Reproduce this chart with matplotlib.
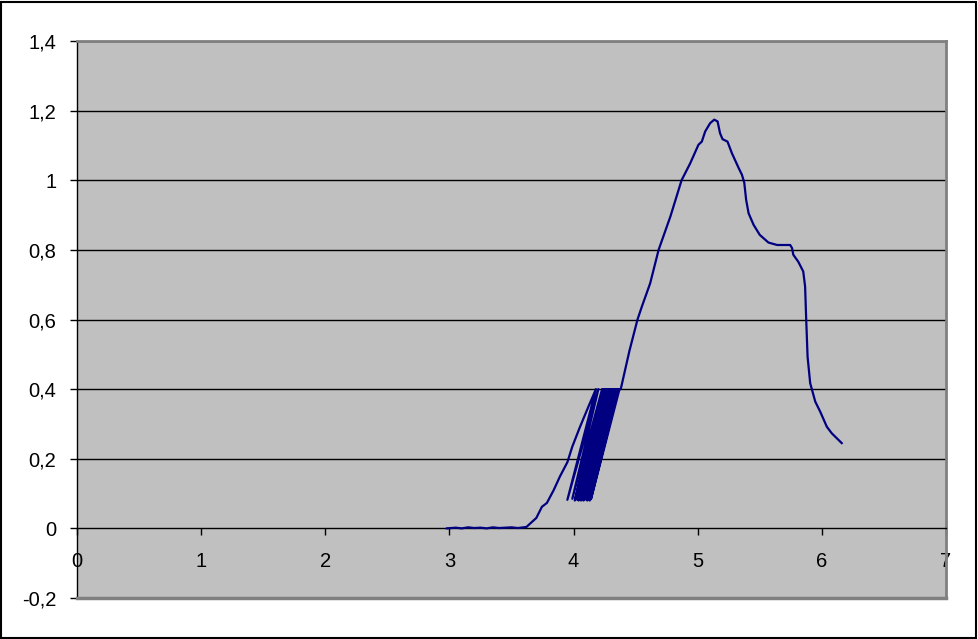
import matplotlib
matplotlib.use("Agg")
import matplotlib.pyplot as plt
import matplotlib.patches as mpatches

# ---- data ----
# flat foot of the curve
foot_x = [2.98, 3.05, 3.10, 3.15, 3.20, 3.25, 3.30, 3.35, 3.40, 3.45, 3.50, 3.55, 3.62]
foot_y = [0.000, 0.002, 0.000, 0.003, 0.001, 0.002, 0.000, 0.003, 0.001, 0.002, 0.003, 0.001, 0.004]

# first rise up to the 0.4 plateau
rise_x = [3.70, 3.745, 3.785, 3.84, 3.89, 3.95, 3.99, 4.05, 4.12, 4.18]
rise_y = [0.030, 0.062, 0.073, 0.110, 0.149, 0.190, 0.235, 0.290, 0.350, 0.400]

# saw-tooth section: each cycle drops to a bottom point, climbs to 0.4
saw_bottom_x = [3.95, 3.99, 4.01, 4.02, 4.03, 4.04, 4.05, 4.06, 4.07, 4.08,
                4.09, 4.10, 4.11, 4.12, 4.13, 4.14, 4.15]
saw_bottom_y = [0.082, 0.085, 0.080, 0.088, 0.082, 0.080, 0.086, 0.080, 0.084,
                0.080, 0.082, 0.085, 0.080, 0.083, 0.080, 0.084, 0.080]
saw_top_x = [4.20, 4.23, 4.24, 4.25, 4.26, 4.27, 4.28, 4.29, 4.30, 4.31,
             4.32, 4.33, 4.34, 4.35, 4.36, 4.37]
saw_top_y = [0.400] * len(saw_top_x)

# main peak and tail
main_x = [4.38, 4.45, 4.515, 4.55, 4.617, 4.685, 4.78, 4.87, 4.94, 5.006, 5.033,
          5.06, 5.10, 5.133, 5.16, 5.18, 5.20, 5.24, 5.275, 5.33, 5.356, 5.375,
          5.39, 5.41, 5.45, 5.50, 5.57, 5.64, 5.745, 5.76, 5.77, 5.81, 5.85,
          5.865, 5.874, 5.885, 5.906, 5.947, 5.987, 6.04, 6.08, 6.12, 6.16]
main_y = [0.400, 0.510, 0.600, 0.637, 0.704, 0.800, 0.896, 1.000, 1.049, 1.102, 1.111,
          1.140, 1.164, 1.174, 1.169, 1.135, 1.118, 1.111, 1.078, 1.035, 1.016, 0.993,
          0.944, 0.905, 0.872, 0.843, 0.821, 0.814, 0.814, 0.805, 0.786, 0.766, 0.738,
          0.695, 0.599, 0.493, 0.417, 0.364, 0.335, 0.292, 0.273, 0.259, 0.245]

x_ticks = [0, 1, 2, 3, 4, 5, 6, 7]
y_ticks = [-0.2, 0, 0.2, 0.4, 0.6, 0.8, 1.0, 1.2, 1.4]
y_labels = ["-0,2", "0", "0,2", "0,4", "0,6", "0,8", "1", "1,2", "1,4"]

# assemble the single series
xs = foot_x + rise_x
ys = foot_y + rise_y
for i in range(len(saw_top_x)):
    xs += [saw_bottom_x[i], saw_top_x[i]]
    ys += [saw_bottom_y[i], saw_top_y[i]]
xs += main_x
ys += main_y

plt.rcParams['font.family'] = ['Liberation Sans', 'DejaVu Sans']

fig = plt.figure(figsize=(9.79, 6.39), dpi=100)
ax = fig.add_axes([77 / 979, 41 / 639, 869 / 979, 557 / 639])
ax.set_facecolor('#c0c0c0')

for v in y_ticks[2:]:
    ax.axhline(v, color='black', linewidth=1, zorder=1)

ax.plot(xs, ys, color='#000080', linewidth=1.6, zorder=3)

ax.set_xlim(0, 7)
ax.set_ylim(-0.2, 1.4)
ax.set_xticks(x_ticks)
ax.set_xticklabels([str(t) for t in x_ticks])
ax.set_yticks(y_ticks)
ax.set_yticklabels(y_labels)

# frame: black value axis, grey border, category axis on the zero line
for side in ('top', 'right'):
    ax.spines[side].set_color('#808080')
    ax.spines[side].set_linewidth(2)
ax.spines['left'].set_color('black')
ax.spines['left'].set_linewidth(1)
ax.spines['bottom'].set_position(('data', 0))
ax.spines['bottom'].set_color('black')
ax.spines['bottom'].set_linewidth(1)
ax.plot([0, 1], [0, 0], transform=ax.transAxes, color='#808080',
        linewidth=2.5, clip_on=False, zorder=4)

ax.tick_params(axis='y', direction='out', length=5, width=1, pad=10, labelsize=14.5)
ax.tick_params(axis='x', direction='out', length=5, width=1, pad=12, labelsize=14.5)

fig.patches.append(mpatches.Rectangle((1 / 979, 1 / 639), 975 / 979, 636 / 639,
                                      transform=fig.transFigure, fill=False,
                                      edgecolor='black', linewidth=1.5))

fig.savefig('out.png', dpi=100, facecolor='white')
plt.close(fig)
